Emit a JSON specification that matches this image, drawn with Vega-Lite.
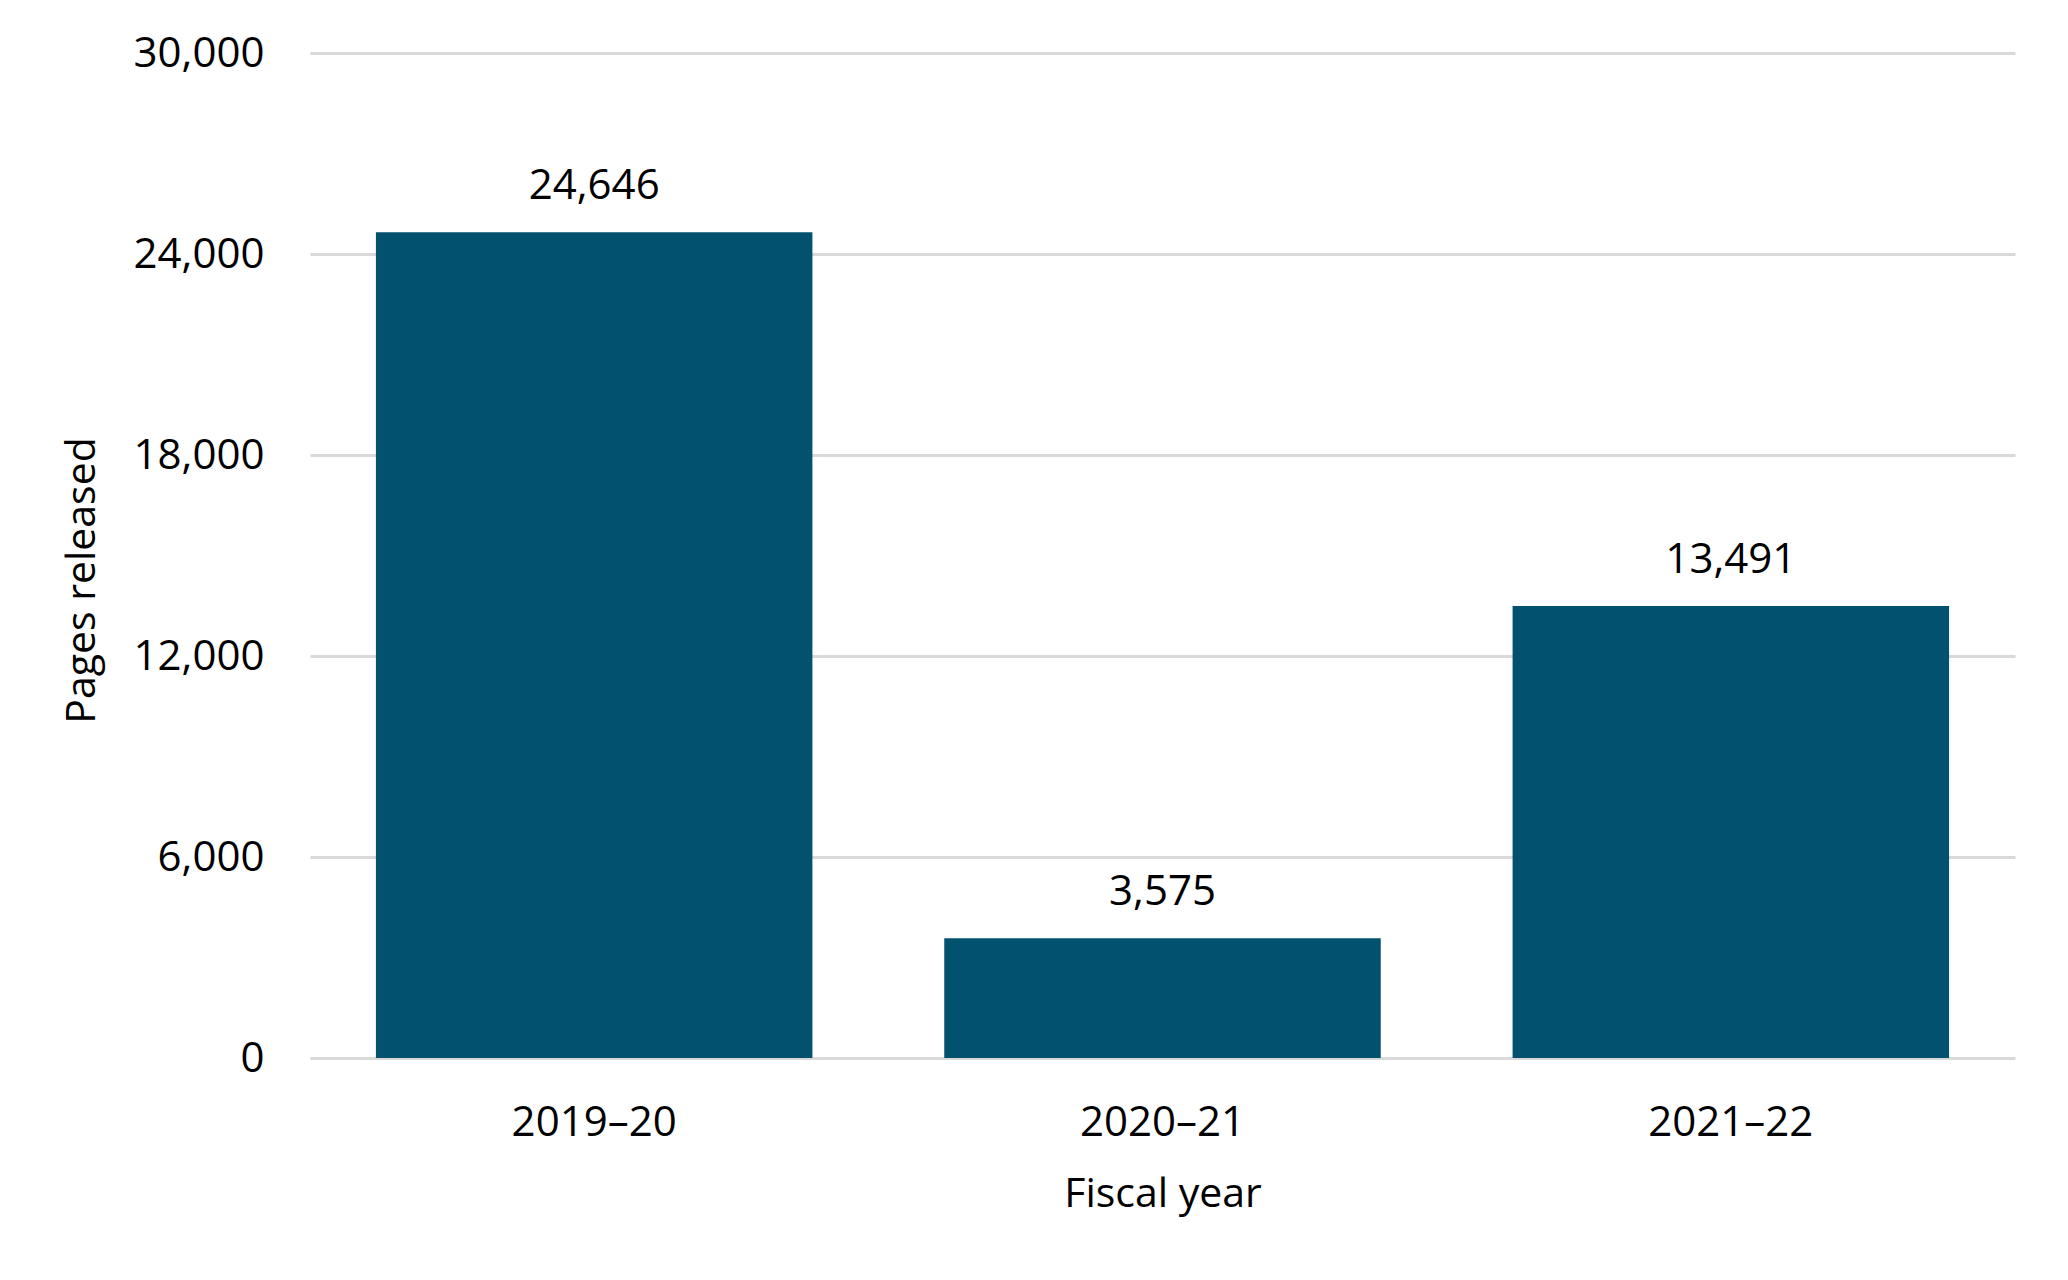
{
  "$schema": "https://vega.github.io/schema/vega-lite/v6.json",
  "autosize": {"type": "none"},
  "width": 1705,
  "height": 1005,
  "padding": {"left": 310, "top": 53, "right": 53, "bottom": 222},
  "background": "white",
  "config": {
    "view": {"stroke": null},
    "font": "Open Sans",
    "axis": {"labelFont": "Open Sans", "titleFont": "Open Sans", "labelColor": "black", "titleColor": "black", "labelFontSize": 42, "titleFontSize": 41, "titleFontWeight": "normal"}
  },
  "data": {
    "values": [
      {"year": "2019–20", "pages": 24646},
      {"year": "2020–21", "pages": 3575},
      {"year": "2021–22", "pages": 13491}
    ]
  },
  "encoding": {
    "x": {
      "field": "year", "type": "nominal", "sort": null,
      "scale": {"paddingInner": 0.232, "paddingOuter": 0.116},
      "axis": {"title": "Fiscal year", "labelAngle": 0, "ticks": false, "tickSize": 0, "domain": false, "labelPadding": 64, "labelBaseline": "middle", "titleY": 136, "titleBaseline": "middle", "titlePadding": 0}
    },
    "y": {
      "field": "pages", "type": "quantitative",
      "scale": {"domain": [0, 30000]},
      "axis": {"title": "Pages released", "values": [0, 6000, 12000, 18000, 24000, 30000], "format": ",d", "ticks": false, "tickSize": 0, "domain": false, "labelPadding": 46, "gridColor": "#d9d9d9", "gridWidth": 3, "titleAngle": -90, "titleX": -228, "titleY": 527, "titleAlign": "center", "titleBaseline": "middle"}
    }
  },
  "layer": [
    {"mark": {"type": "bar", "color": "#02526f"}},
    {"mark": {"type": "text", "baseline": "alphabetic", "dy": -33, "fontSize": 42, "color": "black", "font": "Open Sans"},
     "encoding": {"text": {"field": "pages", "type": "quantitative", "format": ",d"}}}
  ]
}
